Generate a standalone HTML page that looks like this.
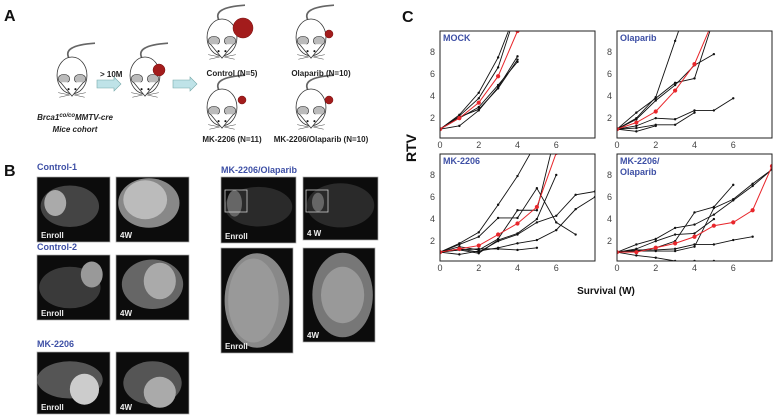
<!DOCTYPE html>
<html><head><meta charset="utf-8">
<style>
html,body{margin:0;padding:0;background:#fff;}
svg{display:block;font-family:"Liberation Sans",sans-serif;}
.lbl{font-weight:bold;fill:#3d4fa5;font-size:9px;}
.tk{font-size:9px;fill:#444;}
.pl{font-size:16px;font-weight:bold;fill:#111;}
.ml{font-size:8px;font-weight:bold;fill:#222;}
.img{fill:#0c0c0c;stroke:#aaa;stroke-width:0.7;}
.iw{fill:#eee;font-size:8px;font-weight:bold;}
</style></head>
<body>
<svg id="fig" width="776" height="415" viewBox="0 0 776 415">
<text class="pl" x="4" y="21">A</text>
<text class="pl" x="4" y="176">B</text>
<text class="pl" x="402" y="22">C</text>
<g id="mice"></g>
<text class="ml" x="100" y="77">&gt; 10M</text>
<polygon points="97,80 114,80 114,77 121,84 114,91 114,88 97,88" fill="#bfe3e8" stroke="#7aa" stroke-width="0.6"/>
<polygon points="173,80 190,80 190,77 197,84 190,91 190,88 173,88" fill="#bfe3e8" stroke="#7aa" stroke-width="0.6"/>
<text class="ml" x="232" y="76" text-anchor="middle">Control (N=5)</text>
<text class="ml" x="321" y="76" text-anchor="middle">Olaparib (N=10)</text>
<text class="ml" x="232" y="142" text-anchor="middle">MK-2206 (N=11)</text>
<text class="ml" x="321" y="142" text-anchor="middle">MK-2206/Olaparib (N=10)</text>
<text class="ml" x="75" y="120" text-anchor="middle" font-style="italic">Brca1<tspan font-size="6" dy="-3">co/co</tspan><tspan dy="3">MMTV-cre</tspan></text>
<text class="ml" x="75" y="132" text-anchor="middle" font-style="italic">Mice cohort</text>

<g id="mri"></g>

<g id="chart"></g>
<text x="416" y="148" font-size="14" font-weight="bold" fill="#111" transform="rotate(-90 416 148)" text-anchor="middle">RTV</text>
<text x="606" y="294" font-size="10" font-weight="bold" fill="#111" text-anchor="middle">Survival (W)</text>
</svg>
<script>
const NS="http://www.w3.org/2000/svg";
function mk(tag,attrs,parent){const e=document.createElementNS(NS,tag);for(const k in attrs)e.setAttribute(k,attrs[k]);parent.appendChild(e);return e;}

// mice
const miceG=document.getElementById('mice');
const mouseCx=[72,145,222,311,222,311];
const mouseCy=[80,80,42,42,112,112];
const tumorR=[0,6,10,4,4,4];
const tumorX=[0,159,243,329,242,329];
const tumorY=[0,70,28,34,100,100];
mouseCx.forEach((cx,i)=>{
  const g=mk('g',{transform:`translate(${cx},${mouseCy[i]}) scale(1.15)`},miceG);
  
  
  mk('path',{d:`M-2 -18 q-8 -12 22 -14`,fill:'none',stroke:'#666','stroke-width':1.5},g);
  mk('ellipse',{cx:0,cy:-4,rx:13,ry:16,fill:'#fff',stroke:'#333','stroke-width':0.7},g);
  mk('ellipse',{cx:-7,cy:-1,rx:5,ry:4,fill:'#bbb',stroke:'#333','stroke-width':0.5},g);
  mk('ellipse',{cx:7,cy:-1,rx:5,ry:4,fill:'#bbb',stroke:'#333','stroke-width':0.5},g);
  mk('path',{d:`M-10 2 L0 14 L10 2`,fill:'#fff',stroke:'#333','stroke-width':0.7},g);
  mk('circle',{cx:-3,cy:8,r:0.9,fill:'#111'},g);
  mk('circle',{cx:3,cy:8,r:0.9,fill:'#111'},g);
  mk('path',{d:`M-12 11 L-2 13 M12 11 L2 13 M-11 15 L-2 13 M11 15 L2 13`,stroke:'#333','stroke-width':0.4},g);
  if(tumorR[i]>0){const t=mk('circle',{cx:tumorX[i],cy:tumorY[i],r:tumorR[i],fill:'#a31c1c',stroke:'#711','stroke-width':0.5},miceG);
    }
});

// MRI panels
const mriG=document.getElementById('mri');
const imgX=[37,116,37,116,37,116,221,303,221,303];
const imgY=[177,177,255,255,352,352,177,177,248,248];
const imgW=[73,73,73,73,73,73,75,75,72,72];
const imgH=[65,65,65,65,62,62,66,63,105,94];
const imgTxt=['Enroll','4W','Enroll','4W','Enroll','4W','Enroll','4 W','Enroll','4W'];
const blobs=[[0.45,0.45,0.4,0.32,'#444'],[0.45,0.4,0.42,0.38,'#888'],[0.45,0.5,0.42,0.32,'#3a3a3a'],[0.5,0.45,0.42,0.38,'#666'],[0.45,0.45,0.45,0.3,'#555'],[0.5,0.5,0.4,0.35,'#555'],[0.5,0.45,0.45,0.3,'#2a2a2a'],[0.5,0.45,0.45,0.35,'#2a2a2a'],[0.5,0.5,0.45,0.45,'#888'],[0.55,0.5,0.42,0.45,'#777']];
const hi=[[0.25,0.4,0.15,0.2,'#aaa'],[0.4,0.35,0.3,0.3,'#bbb'],[0.75,0.3,0.15,0.2,'#999'],[0.6,0.4,0.22,0.28,'#aaa'],[0.65,0.6,0.2,0.25,'#ccc'],[0.6,0.65,0.22,0.25,'#aaa'],[0.18,0.4,0.1,0.2,'#666'],[0.2,0.4,0.08,0.15,'#666'],[0.45,0.5,0.35,0.4,'#999'],[0.55,0.5,0.3,0.3,'#999']];
imgX.forEach((x,i)=>{
  const g=mk('g',{},mriG);
  
  
  const w=imgW[i],h=imgH[i],y=imgY[i];
  mk('rect',{x:x,y:y,width:w,height:h,class:'img'},g);
  const b=blobs[i];mk('ellipse',{cx:x+b[0]*w,cy:y+b[1]*h,rx:b[2]*w,ry:b[3]*h,fill:b[4]},g);
  const c=hi[i];mk('ellipse',{cx:x+c[0]*w,cy:y+c[1]*h,rx:c[2]*w,ry:c[3]*h,fill:c[4]},g);
  const t=mk('text',{x:x+4,y:y+h-4,class:'iw'},g);t.textContent=imgTxt[i];
});
mk('rect',{x:225,y:190,width:22,height:22,fill:'none',stroke:'#ccc','stroke-width':0.8},mriG);
mk('rect',{x:306,y:190,width:22,height:22,fill:'none',stroke:'#ccc','stroke-width':0.8},mriG);
[['Control-1',37,170],['Control-2',37,250],['MK-2206',37,347],['MK-2206/Olaparib',221,173]].forEach(a=>{
  const t=mk('text',{x:a[1],y:a[2],class:'lbl'},mriG);t.textContent=a[0];
  
  
});

// chart data
const weeks=[0,1,2,3,4,5,6,7,8];
const xTicks=[0,2,4,6];
const yTicks=[2,4,6,8];
const panelNames=['MOCK','Olaparib','MK-2206','MK-2206/ Olaparib'];
const mockSeries=[[1,2.3,4.3,7.5,12],[1,2.2,3.8,6.6,12],[1,1.3,2.7,4.8,7.6],[1,2.0,3.0,5.0,7.1],[1,2.1,2.8,4.7,7.3]];
const mockMean=[1,2.0,3.4,5.8,9.9];
const olapSeries=[[1,2.0,3.9,9.0,14],[1,2.5,3.8,5.2,5.6,11],[1,1.9,3.6,5.0,6.8,7.8],[1,1.3,2.0,1.9,2.7,2.7,3.8],[1,1.1,1.4,1.4,2.5],[1,0.8,1.3]];
const olapMean=[1,1.6,2.6,4.5,6.9,11];
const mkSeries=[[1,1.8,2.8,5.3,7.9,11],[1,1.7,2.4,4.1,4.1,6.8,3.7,2.6],[1,1.5,1.2,2.2,4.8,4.8,12],[1,1.3,1.0,2.0,2.6,3.7,4.3,6.2,6.5],[1,1.2,0.9,2.1,2.7,4.0,8],[1,0.8,1.1,1.4,1.8,2.1,3.0,4.9,6.0],[1,1.2,1.3,1.3,1.2,1.4]];
const mkMean=[1,1.3,1.6,2.6,3.6,5.1,10];
const comboSeries=[[1,1.7,2.2,3.2,3.5,4.4,5.7,7.0,8.5],[1,1.3,2.0,2.6,2.7,4.0],[1,1.1,1.4,2.0,4.6,5.1,7.1],[1,1.2,1.2,1.3,1.7,1.7,2.1,2.4],[1,1.1,1.1,1.1,1.5,5.0,5.8,7.2,8.5],[1,0.7,0.5,0.2,0.2,0.2,0.1]];
const comboMean=[1,1.0,1.4,1.8,2.4,3.4,3.7,4.8,8.8];

const panelsBlack=[mockSeries,olapSeries,mkSeries,comboSeries];
const panelsRed=[mockMean,olapMean,mkMean,comboMean];
const panelLeft=[440,617,440,617];
const panelTop=[31,31,154,154];
const PW=155,PH=107,XMAX=8,YMIN=0.2,YMAX=9.9;

const chart=document.getElementById('chart');
panelNames.forEach((name,p)=>{
  const L=panelLeft[p],T=panelTop[p];
  const sx=v=>L+v/XMAX*PW;
  const sy=v=>T+PH-(v-YMIN)/(YMAX-YMIN)*PH;
  const g=mk('g',{},chart);
  
  
  const cid='clip'+p;
  const cp=mk('clipPath',{id:cid},g);mk('rect',{x:L,y:T,width:PW,height:PH},cp);
  const data=mk('g',{'clip-path':`url(#${cid})`},g);
  const draw=(arr,color,r,w,nm)=>{
    const pts=arr.map((v,i)=>sx(weeks[i])+','+sy(v)).join(' ');
    const pl=mk('polyline',{points:pts,fill:'none',stroke:color,'stroke-width':w},data);
    
    
    arr.forEach((v,i)=>{const c=mk('circle',{cx:sx(weeks[i]),cy:sy(v),r:r,fill:color},data);
      
      });
  };
  panelsBlack[p].forEach((s,k)=>draw(s,'#111',1.2,0.9,'series-line-'+k));
  draw(panelsRed[p],'#e8262b',2.1,1,'mean-line');
  mk('rect',{x:L,y:T,width:PW,height:PH,fill:'none',stroke:'#222','stroke-width':1},g);
  xTicks.forEach(t=>{const e=mk('text',{x:sx(t),y:T+PH+10,class:'tk','text-anchor':'middle'},g);e.textContent=t;
    });
  yTicks.forEach(t=>{const e=mk('text',{x:L-5,y:sy(t)+3,class:'tk','text-anchor':'end'},g);e.textContent=t;
    });
  const parts=name.split(' ');
  parts.forEach((s,k)=>{const e=mk('text',{x:L+3,y:T+10+k*11,class:'lbl'},g);e.textContent=s;
    });
});
</script>
</body></html>
